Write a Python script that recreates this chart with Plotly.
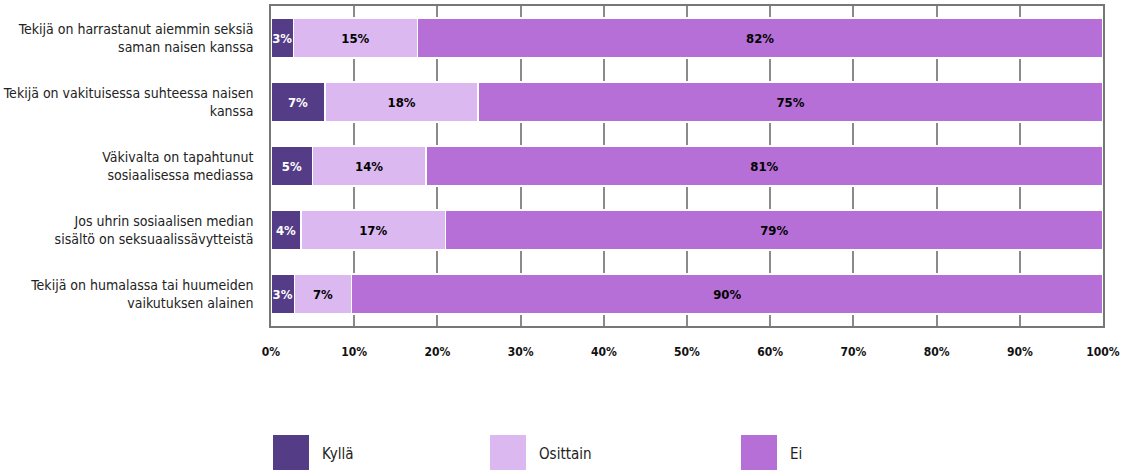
import plotly.graph_objects as go

categories = [
    "Tekijä on harrastanut aiemmin seksiä<br>saman naisen kanssa",
    "Tekijä on vakituisessa suhteessa naisen<br>kanssa",
    "Väkivalta on tapahtunut<br>sosiaalisessa mediassa",
    "Jos uhrin sosiaalisen median<br>sisältö on seksuaalissävytteistä",
    "Tekijä on humalassa tai huumeiden<br>vaikutuksen alainen",
]
kylla = [2.7, 6.5, 5.0, 3.6, 2.8]
osittain = [14.9, 18.4, 13.6, 17.4, 6.9]
ei = [82.4, 75.1, 81.4, 79.0, 90.3]

series_names = ["Kyllä", "Osittain", "Ei"]
series_values = [kylla, osittain, ei]
colors = ["#543d86", "#dbb8f0", "#b66fd6"]
text_colors = ["white", "black", "black"]

tick_vals = [0, 10, 20, 30, 40, 50, 60, 70, 80, 90, 100]
tick_text = [f"{v}%" for v in tick_vals]

FONT = "DejaVu Sans Condensed, Liberation Sans Narrow, Arial Narrow, sans-serif"

fig = go.Figure()
for name, vals, col, tcol in zip(series_names, series_values, colors, text_colors):
    fig.add_trace(go.Bar(
        y=categories, x=vals, name=name, orientation="h",
        marker=dict(color=col, line=dict(color="white", width=1.5)),
        texttemplate="%{x:.0f}%", textposition="inside",
        insidetextanchor="middle", textangle=0, constraintext="none",
        textfont=dict(family=FONT, size=13, color=tcol, weight="bold"),
        showlegend=False,
    ))

fig.update_layout(
    barmode="stack",
    width=1126, height=470,
    margin=dict(l=271, r=23, t=6, b=144, autoexpand=False),
    paper_bgcolor="white", plot_bgcolor="white",
    bargap=0.375,
    font=dict(family=FONT, size=14, color="#222"),
)
fig.update_xaxes(
    range=[0, 100], tickvals=tick_vals, ticktext=tick_text,
    showgrid=True, gridcolor="#8a8a8a", gridwidth=1.5,
    showline=True, linecolor="#777", linewidth=1.5, mirror=True,
    zeroline=False, ticks="", ticklabelstandoff=14, automargin=False,
    tickfont=dict(family=FONT, size=12, color="#111", weight="bold"),
)
fig.update_yaxes(
    autorange="reversed", showgrid=False,
    showline=True, linecolor="#777", linewidth=1.5, mirror=True,
    ticks="", ticklabelstandoff=13, automargin=False,
    tickfont=dict(family=FONT, size=14, color="#222"),
)

# Legend drawn as large swatches below the plot
legend_x = [273, 490, 741]
plot_l, plot_w, plot_b, plot_h = 271, 832, 326, 320
for name, col, lx in zip(series_names, colors, legend_x):
    x0 = (lx - plot_l) / plot_w
    x1 = (lx + 36 - plot_l) / plot_w
    y0 = (plot_b - 476) / plot_h
    y1 = (plot_b - 435) / plot_h
    fig.add_shape(type="rect", xref="paper", yref="paper",
                  x0=x0, x1=x1, y0=y0, y1=y1,
                  fillcolor=col, line=dict(width=0), layer="above")
    fig.add_annotation(xref="paper", yref="paper",
                       x=(lx + 47 - plot_l) / plot_w, y=(plot_b - 454) / plot_h,
                       text=name, showarrow=False, xanchor="left", yanchor="middle",
                       font=dict(family=FONT, size=15, color="#222"))

fig.write_html("out.html", config={"displayModeBar": False},
               post_script="document.body.style.margin='0';")
